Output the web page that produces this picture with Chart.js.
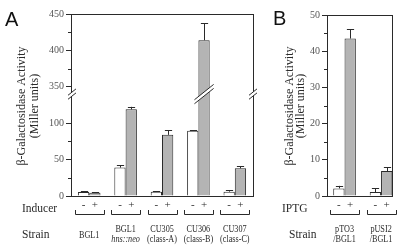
<!DOCTYPE html>
<html><head><meta charset="utf-8">
<script src="https://cdn.jsdelivr.net/npm/chart.js@4"></script>
<style>
html,body{margin:0;padding:0;background:#fff;}
#wrap{position:relative;width:406px;height:247px;overflow:hidden;background:#fff;}
#ca{position:absolute;left:0;top:0;width:260px;height:247px;}
#cb{position:absolute;left:260px;top:0;width:146px;height:247px;}
</style></head><body>
<div id="wrap"><canvas id="ca" width="260" height="247"></canvas><canvas id="cb" width="146" height="247"></canvas></div>
<script>
// ---------- Panel A data ----------
const strainLine1A = ['BGL1', 'BGL1', 'CU305', 'CU306', 'CU307'];
const strainLine2A = ['', 'hns::neo', '(class-A)', '(class-B)', '(class-C)'];
const minusA = [5.5, 39, 6, 89.5, 6];
const minusErrA = [1, 3, 0.6, 1, 1.8];
const plusA = [4.5, 119, 84, 414, 38];
const plusErrA = [0.8, 3.5, 6, 23, 3];
const yTickValuesA = [0, 50, 100, 350, 400, 450];
// ---------- Panel B data ----------
const strainLine1B = ['pTO3', 'pUSI2'];
const strainLine2B = ['/BGL1', '/BGL1'];
const minusB = [2.1, 1.1];
const minusErrB = [0.7, 1];
const plusB = [43.5, 6.9];
const plusErrB = [2.5, 1];
const yTickValuesB = [0, 10, 20, 30, 40, 50];

const SERIF = "'Liberation Serif', 'DejaVu Serif', serif";
const SANS = "'Liberation Sans', Arial, sans-serif";
const INK = '#2a2a2a';
const GRAY = '#b4b4b4';

// axis break for panel A: values above the break are shifted down by 200
const BREAK_SHIFT = 200;
const BREAK_FROM = 300;
const fold = v => (v >= BREAK_FROM ? v - BREAK_SHIFT : v);
const BREAK_AT = 140; // plotted position of the break marks

function errPlugin(errs) {
  return {
    id: 'errbars',
    afterDatasetsDraw(chart) {
      const ctx = chart.ctx, y = chart.scales.y;
      ctx.save();
      ctx.strokeStyle = INK; ctx.lineWidth = 1;
      chart.data.datasets.forEach((ds, di) => {
        const meta = chart.getDatasetMeta(di);
        meta.data.forEach((bar, i) => {
          const raw = ds.data[i];
          const v = (typeof raw === 'object') ? raw.y : raw;
          const top = y.getPixelForValue(v + errs[di][i]);
          const x = Math.round(bar.x) + 0.5;
          const cw = bar.width * 0.32;
          ctx.beginPath();
          ctx.moveTo(x, bar.y); ctx.lineTo(x, top);
          ctx.moveTo(x - cw, Math.round(top) + 0.5); ctx.lineTo(x + cw, Math.round(top) + 0.5);
          ctx.stroke();
        });
      });
      ctx.restore();
    }
  };
}

function drawBreak(ctx, x, y, half) {
  ctx.save();
  ctx.fillStyle = '#fff';
  ctx.strokeStyle = INK; ctx.lineWidth = 1;
  const dy = half * 0.8, g = 2;
  ctx.beginPath();
  ctx.moveTo(x - half, y + dy - g); ctx.lineTo(x + half, y - dy - g);
  ctx.lineTo(x + half, y - dy + g); ctx.lineTo(x - half, y + dy + g);
  ctx.closePath(); ctx.fill();
  ctx.beginPath();
  ctx.moveTo(x - half, y + dy - g); ctx.lineTo(x + half, y - dy - g);
  ctx.moveTo(x - half, y + dy + g); ctx.lineTo(x + half, y - dy + g);
  ctx.stroke();
  ctx.restore();
}

function narrowText(ctx, s, x, y, sx) {
  ctx.save(); ctx.translate(x, y); ctx.scale(sx, 1); ctx.fillText(s, 0, 0); ctx.restore();
}

function framePlugin(opts) {
  return {
    id: 'frame',
    afterDraw(chart) {
      const ctx = chart.ctx, a = chart.chartArea, y = chart.scales.y;
      ctx.save();
      // box
      ctx.strokeStyle = INK; ctx.lineWidth = 1;
      ctx.strokeRect(Math.round(a.left) + 0.5, Math.round(a.top) + 0.5, Math.round(a.right - a.left), Math.round(a.bottom - a.top));
      // minor ticks
      const ticks = y.ticks.map(t => t.value);
      ctx.beginPath();
      for (let i = 0; i < ticks.length - 1; i++) {
        if (opts.skipMinor && opts.skipMinor(ticks[i])) continue;
        const py = Math.round(y.getPixelForValue((ticks[i] + ticks[i + 1]) / 2)) + 0.5;
        ctx.moveTo(a.left - 3, py); ctx.lineTo(a.left, py);
      }
      ctx.stroke();
      // axis breaks
      if (opts.breaks) {
        const by = y.getPixelForValue(BREAK_AT);
        drawBreak(ctx, a.left + 1, by, 4);
        drawBreak(ctx, a.right, by, 4);
        const meta = chart.getDatasetMeta(1);
        meta.data.forEach((bar, i) => {
          if (opts.rawPlus[i] >= BREAK_FROM) drawBreak(ctx, bar.x, by, bar.width * 0.85);
        });
      }
      // y-axis title
      ctx.fillStyle = INK;
      ctx.font = '12px ' + SERIF;
      ctx.textAlign = 'center'; ctx.textBaseline = 'middle';
      const cy = 106;
      [['β-Galactosidase Activity', opts.t1x], ['(Miller units)', opts.t2x]].forEach(([s, tx]) => {
        ctx.save(); ctx.translate(tx, cy); ctx.rotate(-Math.PI / 2); ctx.fillText(s, 0, 0); ctx.restore();
      });
      // panel letter
      ctx.font = '20px ' + SANS; ctx.textAlign = 'left'; ctx.textBaseline = 'alphabetic';
      ctx.fillStyle = '#111';
      ctx.fillText(opts.letter, opts.letterX, opts.letterY);
      // row labels
      ctx.fillStyle = INK;
      ctx.font = '11.5px ' + SERIF;
      ctx.fillText(opts.inducer, opts.rowX1, 212);
      ctx.fillText('Strain', opts.rowX2, 237.5);
      // -/+ signs and brackets
      ctx.textAlign = 'center';
      const m0 = chart.getDatasetMeta(0).data, m1 = chart.getDatasetMeta(1).data;
      m0.forEach((bar, i) => {
        ctx.font = '11px ' + SERIF;
        ctx.fillText('-', bar.x, 208);
        ctx.fillText('+', m1[i].x, 208);
        const cx = (bar.x + m1[i].x) / 2, hw = 14.5;
        ctx.beginPath();
        ctx.moveTo(Math.round(cx - hw) + 0.5, 210); ctx.lineTo(Math.round(cx - hw) + 0.5, 214.5);
        ctx.lineTo(Math.round(cx + hw) + 0.5, 214.5); ctx.lineTo(Math.round(cx + hw) + 0.5, 210);
        ctx.stroke();
        // strain labels
        const l1 = opts.line1[i], l2 = opts.line2[i];
        ctx.font = '9.5px ' + SERIF;
        const sx = 0.86;
        if (l2) {
          narrowText(ctx, l1, cx, opts.l1y, sx);
          ctx.font = (opts.italic2[i] ? 'italic ' : '') + '9.5px ' + SERIF;
          narrowText(ctx, l2, cx, opts.l2y, sx);
        } else {
          narrowText(ctx, l1, cx, 237.5, sx);
        }
      });
      ctx.restore();
    }
  };
}

function yAxis(tickPos, tickLabels, max, width) {
  return {
    min: 0, max: max,
    afterBuildTicks: s => { s.ticks = tickPos.map(v => ({ value: v })); },
    afterFit: s => { s.width = width; },
    ticks: {
      callback: (v, i) => tickLabels[i],
      font: { family: SERIF, size: 10 }, color: '#555', padding: 2
    },
    grid: { drawOnChartArea: false, tickLength: 5, tickColor: INK, tickWidth: 1 },
    border: { display: true, color: INK, width: 1 }
  };
}

// ---------- Chart A ----------
new Chart(document.getElementById('ca'), {
  type: 'bar',
  data: {
    labels: strainLine1A.map((s, i) => s + ' ' + strainLine2A[i]),
    datasets: [
      { label: '-', data: minusA.map(fold), backgroundColor: '#fff', borderColor: INK, borderWidth: 1, categoryPercentage: 0.62, barPercentage: 1 },
      { label: '+', data: plusA.map(fold), backgroundColor: GRAY, borderColor: INK, borderWidth: 1, categoryPercentage: 0.62, barPercentage: 1 }
    ]
  },
  options: {
    responsive: false, animation: false, devicePixelRatio: 1,
    layout: { padding: { left: 0, top: 14, right: 7, bottom: 51 } },
    plugins: { legend: { display: false }, tooltip: { enabled: false } },
    scales: {
      x: { display: false },
      y: yAxis(yTickValuesA.map(fold), yTickValuesA.map(String), fold(450), 71)
    }
  },
  plugins: [errPlugin([minusErrA, plusErrA]), framePlugin({
    breaks: true, rawPlus: plusA, skipMinor: v => v === fold(100),
    t1x: 22, t2x: 35, letter: 'A', letterX: 5, letterY: 26,
    inducer: 'Inducer', rowX1: 22, rowX2: 22,
    line1: strainLine1A, line2: strainLine2A, italic2: [false, true, false, false, false], l1y: 232, l2y: 242
  })]
});

// ---------- Chart B ----------
new Chart(document.getElementById('cb'), {
  type: 'bar',
  data: {
    datasets: [
      { label: '-', data: minusB.map((v, i) => ({ x: i, y: v })), backgroundColor: '#fff', borderColor: INK, borderWidth: 1, categoryPercentage: 0.62, barPercentage: 1 },
      { label: '+', data: plusB.map((v, i) => ({ x: i, y: v })), backgroundColor: GRAY, borderColor: INK, borderWidth: 1, categoryPercentage: 0.62, barPercentage: 1 }
    ]
  },
  options: {
    responsive: false, animation: false, devicePixelRatio: 1,
    layout: { padding: { left: 0, top: 15, right: 14, bottom: 51 } },
    plugins: { legend: { display: false }, tooltip: { enabled: false } },
    scales: {
      x: { type: 'linear', min: -0.48, max: 1.30, display: false, offset: false },
      y: yAxis(yTickValuesB, yTickValuesB.map(String), 50, 67)
    }
  },
  plugins: [errPlugin([minusErrB, plusErrB]), framePlugin({
    breaks: false,
    t1x: 30, t2x: 41, letter: 'B', letterX: 13, letterY: 25,
    inducer: 'IPTG', rowX1: 22, rowX2: 29,
    line1: strainLine1B, line2: strainLine2B, italic2: [false, false], l1y: 231.5, l2y: 242
  })]
});
</script>
</body></html>
